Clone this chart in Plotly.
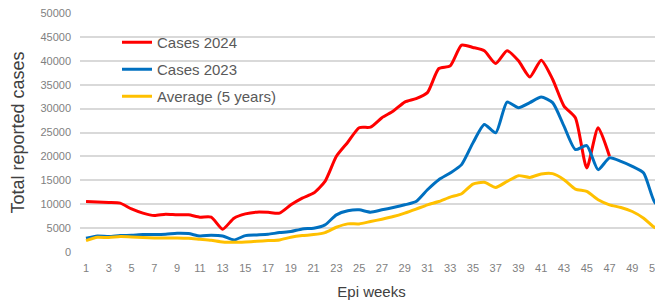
import plotly.graph_objects as go

weeks = list(range(1, 53))

cases_2024 = [10570, 10440, 10360, 10230, 9000, 8130, 7630, 7920, 7770, 7770,
              7290, 7290, 4770, 7080, 7980, 8340, 8300, 8130, 9870, 11280,
              12330, 14770, 20020, 22960, 26000, 26120, 28090, 29480, 31370, 32080,
              33340, 38380, 38940, 43280, 42790, 42090, 39430, 42090, 39990, 36620,
              40130, 36140, 30530, 28090, 17590, 25990, 20020]

cases_2023 = [2870, 3360, 3220, 3430, 3500, 3640, 3640, 3710, 3920, 3850,
              3360, 3500, 3360, 2520, 3430, 3570, 3710, 4060, 4270, 4830,
              4970, 5670, 7770, 8610, 8820, 8340, 8820, 9310, 9870, 10570,
              13030, 15130, 16530, 18280, 22830, 26680, 24930, 31370, 30190, 31240,
              32420, 31240, 26330, 21430, 22270, 17230, 19690, 18970, 17920, 16530,
              10300, 9180]

average_5y = [2380, 3080, 3010, 3220, 3150, 3010, 2940, 2940, 2940, 2870,
              2660, 2450, 2100, 2030, 2100, 2240, 2380, 2520, 3080, 3430,
              3640, 4060, 5180, 5880, 5880, 6370, 6870, 7420, 8130, 8970,
              9870, 10570, 11490, 12190, 14220, 14570, 13510, 14770, 15970, 15610,
              16320, 16390, 15130, 13170, 12670, 10930, 9870, 9310, 8470, 7080,
              5110, 4770]

tick_weeks = list(range(1, 52, 2))
y_ticks = list(range(0, 50001, 5000))

fig = go.Figure()
fig.add_trace(go.Scatter(x=weeks[:len(cases_2024)], y=cases_2024, name="Cases 2024",
                         legendgroup="a", mode="lines",
                         line=dict(color="#ff0000", width=3, shape="spline", smoothing=0.6)))
fig.add_trace(go.Scatter(x=weeks, y=cases_2023, name="Cases 2023",
                         legendgroup="b", mode="lines",
                         line=dict(color="#0070c0", width=3, shape="spline", smoothing=0.6)))
fig.add_trace(go.Scatter(x=weeks, y=average_5y, name="Average (5 years)",
                         legendgroup="c", mode="lines",
                         line=dict(color="#ffc000", width=3, shape="spline", smoothing=0.6)))

font_family = "Liberation Sans, Arial, sans-serif"

# The page body has an 8px default margin; the figure is sized to fill the rest of the window.
fig.update_layout(
    width=655, height=296,
    margin=dict(l=72, r=0, t=5, b=52, autoexpand=False),
    paper_bgcolor="white", plot_bgcolor="white",
    font=dict(family=font_family, color="#595959"),
    showlegend=True,
    legend=dict(x=(117 - 80) / 583, y=(252 - 26) / 239, xanchor="left", yanchor="top",
                bgcolor="rgba(0,0,0,0)", font=dict(size=15, color="#595959"),
                itemwidth=30, tracegroupgap=4.5, traceorder="grouped"),
    xaxis=dict(range=[0.47, 51.7], tickmode="array", tickvals=tick_weeks,
               ticktext=[str(w) for w in tick_weeks], showgrid=False, zeroline=False,
               showline=False, ticks="", tickfont=dict(size=11, color="#7f7f7f"),
               ticklabelstandoff=8, automargin=False, ticklabeloverflow="allow",
               title=dict(text="Epi weeks", font=dict(size=15, color="#404040"), standoff=13)),
    yaxis=dict(range=[0, 50000], tickmode="array", tickvals=y_ticks,
               ticktext=[str(v) for v in y_ticks], showgrid=True, gridcolor="#d9d9d9",
               gridwidth=1.5, zeroline=False, showline=False, ticks="",
               tickfont=dict(size=11, color="#7f7f7f"), ticklabelstandoff=8,
               automargin=False, ticklabeloverflow="allow",
               title=dict(text="Total reported cases", font=dict(size=18, color="#404040"), standoff=14)),
)

fig.write_html("out.html")
